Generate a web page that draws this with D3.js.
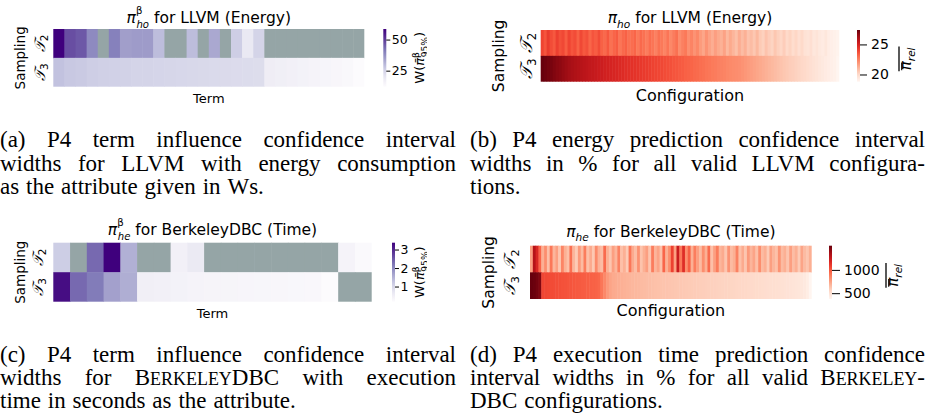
<!DOCTYPE html>
<html>
<head>
<meta charset="utf-8">
<script src="https://cdn.jsdelivr.net/npm/d3@7/dist/d3.min.js"></script>
<style>
  body { margin: 0; background: #fff; }
  svg { display: block; }
</style>
</head>
<body>
<svg id="fig" width="934" height="420"></svg>
<script>
// ---- data -------------------------------------------------------------
const samplingRows = ["2", "3"];

// (a) LLVM energy: term influence CI widths in Ws, null = term not in model
const llvmTermT2 = [58.5, 47.4, 46.0, 38.5, null, 40.0, 34.8, 35.3, 35.3, 29.3, null, null, 29.3, null,
  33.0, null, 26.0, 19.1, 24.6, null, null, null, null, null, null, null, null, null];
const llvmTermT3 = [28.3, 27.2, 26.8, 26.0, 25.6, 25.3, 25.1, 24.8, 24.6, 24.4, 24.2, 24.0, 23.8, 23.6,
  23.4, 23.2, 23.0, 22.8, 22.6, 17.6, 17.0, 16.5, 15.8, 15.2, 14.6, 14.0, 13.3, 12.1];
const llvmTermTicks = [25, 50];

// (b) LLVM energy: prediction CI widths in % per configuration
const llvmConfT2 = [24.0, 23.6, 24.2, 23.8, 23.5, 24.1, 23.7, 23.9, 23.4, 24.0,
  23.6, 23.8, 23.3, 23.9, 23.5, 23.7, 23.2, 23.6, 23.4, 23.8,
  23.3, 23.1, 23.5, 22.9, 23.2, 23.4, 22.8, 23.1, 23.3, 22.9,
  23.0, 23.2, 22.7, 23.1, 22.9, 22.6, 23.0, 22.8, 22.5, 22.9,
  22.7, 22.4, 22.8, 22.3, 22.6, 22.9, 22.2, 22.5, 22.7, 22.1,
  22.4, 22.0, 22.3, 21.8, 21.5, 22.0, 21.6, 21.3, 21.7, 21.4,
  21.2, 21.6, 21.0, 21.4, 21.1, 20.8, 21.3, 20.9, 21.2, 20.7,
  20.9, 20.6, 21.0, 20.5, 20.3, 20.7, 20.4, 20.2, 20.6, 20.3,
  20.1, 20.4, 20.0, 20.2, 19.9, 20.1, 19.8, 20.0, 19.7, 19.6,
  19.8, 19.5, 19.6, 19.4, 19.3, 19.5, 19.2, 19.1, 19.0, 18.9];
const llvmConfT3 = [27.4, 27.3, 27.2, 27.1, 26.95, 26.8, 26.7, 26.55, 26.4, 26.25,
  26.1, 26.0, 25.9, 25.8, 25.7, 25.6, 25.5, 25.45, 25.35, 25.25,
  25.2, 25.1, 25.05, 24.95, 24.9, 24.85, 24.75, 24.7, 24.6, 24.55,
  24.5, 24.45, 24.4, 24.3, 24.25, 24.2, 24.15, 24.05, 24.0, 23.95,
  23.9, 23.8, 23.75, 23.7, 23.6, 23.55, 23.45, 23.4, 23.3, 23.25,
  23.2, 23.1, 23.05, 22.95, 22.9, 22.8, 22.75, 22.65, 22.6, 22.5,
  22.45, 22.4, 22.3, 22.25, 22.2, 22.15, 22.1, 22.0, 21.9, 21.8,
  21.7, 21.6, 21.5, 21.4, 21.3, 21.2, 21.1, 21.0, 20.9, 20.8,
  20.7, 20.6, 20.5, 20.4, 20.35, 20.25, 20.15, 20.05, 20.0, 19.9,
  19.8, 19.7, 19.6, 19.5, 19.4, 19.3, 19.2, 19.1, 19.0, 18.8];
const llvmConfTicks = [20, 25];

// (c) BerkeleyDBC time: term influence CI widths in s
const bdbTermT2 = [1.14, null, 2.35, 3.37, 1.52, null, null, 0.47, 0.63, null,
  null, null, null, null, null, null, null, 0.40, 0.24];
const bdbTermT3 = [3.24, 2.35, 2.16, 1.71, 1.55, 0.50, 0.47, 0.44, 0.40, 0.37,
  0.36, 0.34, 0.33, 0.31, 0.30, 0.28, 0.18, null, null];
const bdbTermTicks = [1, 2, 3];

// (d) BerkeleyDBC time: prediction CI widths in % per configuration
const bdbConfT2 = [760, 1310, 1180, 960, 700, 820, 640, 900, 680, 760,
  620, 850, 700, 640, 920, 680, 600, 780, 660, 880,
  640, 720, 610, 830, 690, 650, 940, 700, 620, 760,
  680, 860, 640, 700, 600, 900, 720, 650, 810, 630,
  700, 760, 620, 880, 680, 740, 640, 960, 700, 820,
  1080, 760, 1240, 900, 1150, 820, 980, 700, 880, 760,
  660, 820, 700, 940, 640, 760, 880, 680, 720, 620,
  800, 660, 700, 860, 640, 720, 620, 780, 680, 740,
  640, 820, 660, 700, 600, 760, 680, 640, 800, 660,
  700, 620, 760, 650, 700, 600, 740, 660, 620, 700];
const bdbConfT3 = [1520, 1510, 1490, 1460, 1060, 1055, 1050, 1045, 1040, 1035,
  1030, 1025, 1020, 1015, 1010, 1005, 1000, 995, 990, 985,
  980, 975, 970, 965, 955, 900, 840, 780, 740, 720,
  712, 705, 698, 692, 686, 680, 675, 670, 665, 660,
  655, 650, 646, 642, 638, 634, 630, 627, 624, 620,
  617, 614, 611, 608, 605, 602, 599, 596, 593, 590,
  587, 584, 581, 578, 575, 572, 569, 566, 563, 560,
  557, 554, 551, 548, 545, 542, 539, 536, 533, 530,
  527, 524, 521, 518, 515, 512, 509, 506, 503, 500,
  496, 492, 488, 484, 480, 474, 466, 452, 430, 375];
const bdbConfTicks = [500, 1000];

// captions, [..] marks small caps
const captionA = ["(a) P4 term influence confidence interval",
  "widths for LLVM with energy consumption",
  "as the attribute given in Ws."];
const captionB = ["(b) P4 energy prediction confidence interval",
  "widths in % for all valid LLVM configura-",
  "tions."];
const captionC = ["(c) P4 term influence confidence interval",
  "widths for B[ERKELEY]DBC with execution",
  "time in seconds as the attribute."];
const captionD = ["(d) P4 execution time prediction confidence",
  "interval widths in % for all valid B[ERKELEY]-",
  "DBC configurations."];

// ---- drawing -----------------------------------------------------------
const svg = d3.select("#fig");
const defs = svg.append("defs");
const SANS = "DejaVu Sans";
const SERIF = "Liberation Serif";
const NAN_FILL = "#95a5a6";
const CB_W = 3;

defs.append("clipPath").attr("id", "leftclip")
  .append("rect").attr("x", 0).attr("y", 0).attr("width", 427).attr("height", 420);

const panels = [
  { id: "a", rows: [llvmTermT2, llvmTermT3], interp: d3.interpolatePurples, ticks: llvmTermTicks,
    box: [53.3, 29, 364.3, 86.7], cbX: 383.3, tickLen: 4, tickPad: 1.5, tickFs: 12.5,
    title: { y: 23, fs: 15.5, sup: "β", sub: "ho", rest: " for LLVM (Energy)" },
    xlab: { text: "Term", y: 103, fs: 13 }, ylab: { x: 25, fs: 13.5 }, rowLab: { x: 45, fs: 15 },
    cbLab: { kind: "W", x: 424, fs: 13 } },
  { id: "b", rows: [llvmConfT2, llvmConfT3], interp: d3.interpolateReds, ticks: llvmConfTicks,
    box: [540.7, 30, 839.3, 81.7], cbX: 857, tickLen: 7, tickPad: 4, tickFs: 14,
    title: { y: 23.3, fs: 15.5, sup: null, sub: "ho", rest: " for LLVM (Energy)" },
    xlab: { text: "Configuration", y: 101, fs: 16 }, ylab: { x: 504, fs: 15.5 }, rowLab: { x: 532, fs: 17 },
    cbLab: { kind: "rel", x: 911, fs: 15 } },
  { id: "c", rows: [bdbTermT2, bdbTermT3], interp: d3.interpolatePurples, ticks: bdbTermTicks,
    box: [53.3, 242.7, 371.7, 301.7], cbX: 392, tickLen: 4, tickPad: 1.5, tickFs: 12.5,
    title: { y: 234.5, fs: 15.5, sup: "β", sub: "he", rest: " for BerkeleyDBC (Time)" },
    xlab: { text: "Term", y: 318, fs: 13 }, ylab: { x: 25, fs: 13.5 }, rowLab: { x: 43, fs: 15 },
    cbLab: { kind: "W", x: 424, fs: 13 } },
  { id: "d", rows: [bdbConfT2, bdbConfT3], interp: d3.interpolateReds, ticks: bdbConfTicks,
    box: [530, 245.7, 811.7, 299], cbX: 829, tickLen: 8, tickPad: 4, tickFs: 14,
    title: { y: 236.7, fs: 15.5, sup: null, sub: "he", rest: " for BerkeleyDBC (Time)" },
    xlab: { text: "Configuration", y: 316, fs: 16 }, ylab: { x: 494, fs: 15.5 }, rowLab: { x: 515, fs: 16 },
    cbLab: { kind: "rel", x: 898, fs: 15 } }
];

function drawPanel(p) {
  const g = svg.append("g").attr("font-family", SANS);
  if (p.cbLab.kind === "W") g.attr("clip-path", "url(#leftclip)");
  const [x0, y0, x1, y1] = p.box;
  const nCols = p.rows[0].length;
  const x = d3.scaleBand().domain(d3.range(nCols)).range([x0, x1]);
  const y = d3.scaleBand().domain(samplingRows).range([y0, y1]);
  const color = d3.scaleSequential(p.interp).domain(d3.extent(p.rows.flat().filter(v => v != null)));

  samplingRows.forEach((r, ri) => {
    g.append("g").selectAll("rect").data(p.rows[ri]).join("rect")
      .attr("x", (d, i) => x(i))
      .attr("y", y(r))
      .attr("width", (d, i) => i === nCols - 1 ? x.bandwidth() : x.bandwidth() + 0.5)
      .attr("height", ri === 0 ? y.bandwidth() + 0.5 : y.bandwidth())
      .attr("fill", d => d == null ? NAN_FILL : color(d));
  });

  // title  π^sup_sub rest
  const cx = (x0 + x1) / 2, fs = p.title.fs, s = fs * 0.65;
  const t = g.append("text").attr("x", cx).attr("y", p.title.y)
    .attr("text-anchor", "middle").attr("font-size", fs);
  t.append("tspan").attr("font-style", "italic").text("π");
  if (p.title.sup) {
    t.append("tspan").attr("font-size", s).attr("dy", -fs * 0.55).text(p.title.sup);
    t.append("tspan").attr("font-size", s).attr("font-style", "italic")
      .attr("dx", -s * 0.58).attr("dy", fs * 0.88).text(p.title.sub);
    t.append("tspan").attr("dy", -fs * 0.33).text(p.title.rest);
  } else {
    t.append("tspan").attr("font-size", s * 1.05).attr("font-style", "italic")
      .attr("dy", fs * 0.28).text(p.title.sub);
    t.append("tspan").attr("dy", -fs * 0.28).text(p.title.rest);
  }

  // axis labels
  g.append("text").attr("x", cx).attr("y", p.xlab.y).attr("text-anchor", "middle")
    .attr("font-size", p.xlab.fs).text(p.xlab.text);
  const cy = (y0 + y1) / 2;
  g.append("text").attr("transform", `translate(${p.ylab.x},${cy}) rotate(-90)`)
    .attr("text-anchor", "middle").attr("font-size", p.ylab.fs).text("Sampling");

  samplingRows.forEach(r => {
    const rt = g.append("text")
      .attr("transform", `translate(${p.rowLab.x},${y(r) + y.bandwidth() / 2}) rotate(-90)`)
      .attr("text-anchor", "middle").attr("font-size", p.rowLab.fs);
    rt.append("tspan").attr("font-family", "DejaVu Serif").attr("font-style", "italic").text("𝒯");
    rt.append("tspan").attr("font-size", p.rowLab.fs * 0.7).attr("dy", p.rowLab.fs * 0.22).text(r);
  });

  // colorbar
  const grad = defs.append("linearGradient").attr("id", "cb-" + p.id)
    .attr("x1", 0).attr("y1", 1).attr("x2", 0).attr("y2", 0);
  d3.range(0, 1.0001, 0.05).forEach(k =>
    grad.append("stop").attr("offset", k).attr("stop-color", p.interp(k)));
  g.append("rect").attr("x", p.cbX).attr("y", y0).attr("width", CB_W).attr("height", y1 - y0)
    .attr("fill", `url(#cb-${p.id})`);
  const cScale = d3.scaleLinear().domain(color.domain()).range([y1, y0]);
  const ax = g.append("g").attr("transform", `translate(${p.cbX + CB_W},0)`)
    .call(d3.axisRight(cScale).tickValues(p.ticks).tickFormat(d3.format("d"))
      .tickSize(p.tickLen).tickPadding(p.tickPad));
  ax.select(".domain").remove();
  ax.attr("font-family", SANS).attr("font-size", p.tickFs);
  ax.selectAll("line").attr("stroke", "#000");
  ax.selectAll("text").attr("fill", "#000");

  // colorbar label
  const lfs = p.cbLab.fs;
  if (p.cbLab.kind === "W") {
    const lt = g.append("text").attr("transform", `translate(${p.cbLab.x},${cy}) rotate(-90)`)
      .attr("text-anchor", "middle").attr("font-size", lfs);
    lt.append("tspan").text("W(");
    lt.append("tspan").attr("font-style", "italic").text("π\u0304");
    lt.append("tspan").attr("font-size", lfs * 0.7).attr("dy", -lfs * 0.4).text("β");
    lt.append("tspan").attr("font-size", lfs * 0.7).attr("dx", -lfs * 0.4).attr("dy", lfs * 0.7).text("95%");
    lt.append("tspan").attr("dy", -lfs * 0.3).text(")");
  } else {
    const lg = g.append("g").attr("transform", `translate(${p.cbLab.x},${cy + 3}) rotate(-90)`);
    const lt = lg.append("text").attr("text-anchor", "middle").attr("font-size", lfs);
    const pi = lt.append("tspan").attr("font-style", "italic").text("π");
    lt.append("tspan").attr("font-size", lfs * 0.7).attr("font-style", "italic")
      .attr("dy", lfs * 0.25).text("rel");
    const w = lt.node().getComputedTextLength();
    const piW = pi.node().getComputedTextLength();
    lg.append("line").attr("x1", -w / 2).attr("x2", -w / 2 + piW * 0.85)
      .attr("y1", -lfs * 0.62).attr("y2", -lfs * 0.62).attr("stroke", "#000").attr("stroke-width", 1.1);
    lg.append("line").attr("x1", -w / 2 - 1).attr("x2", w / 2 + 1)
      .attr("y1", -lfs * 0.8).attr("y2", -lfs * 0.8).attr("stroke", "#000").attr("stroke-width", 1.3);
  }
}

panels.forEach(drawPanel);

// ---- captions (justified like the LaTeX subcaptions) ------------------------
const CAP_FS = 23;
function drawCaption(lines, x0, width, baseY, lineH) {
  lines.forEach((ln, i) => {
    const words = ln.split(" ");
    const justify = i < lines.length - 1;
    const els = words.map(w => {
      const t = svg.append("text").attr("y", baseY + i * lineH)
        .attr("font-family", SERIF).attr("font-size", CAP_FS).attr("fill", "#000");
      w.split(/(\[[^\]]+\])/).filter(s => s).forEach(seg => {
        if (seg[0] === "[") t.append("tspan").attr("font-size", CAP_FS * 0.78).text(seg.slice(1, -1));
        else t.append("tspan").text(seg);
      });
      return t;
    });
    const widths = els.map(e => e.node().getComputedTextLength());
    const gap = justify ? (width - d3.sum(widths)) / (words.length - 1) : CAP_FS * 0.3;
    let cx = x0;
    els.forEach((e, k) => { e.attr("x", cx); cx += widths[k] + gap; });
  });
}
drawCaption(captionA, 0, 456, 147, 23.5);
drawCaption(captionB, 470, 455, 147, 23.5);
drawCaption(captionC, 0, 456, 362, 23);
drawCaption(captionD, 470, 455, 362, 23);
</script>
</body>
</html>
